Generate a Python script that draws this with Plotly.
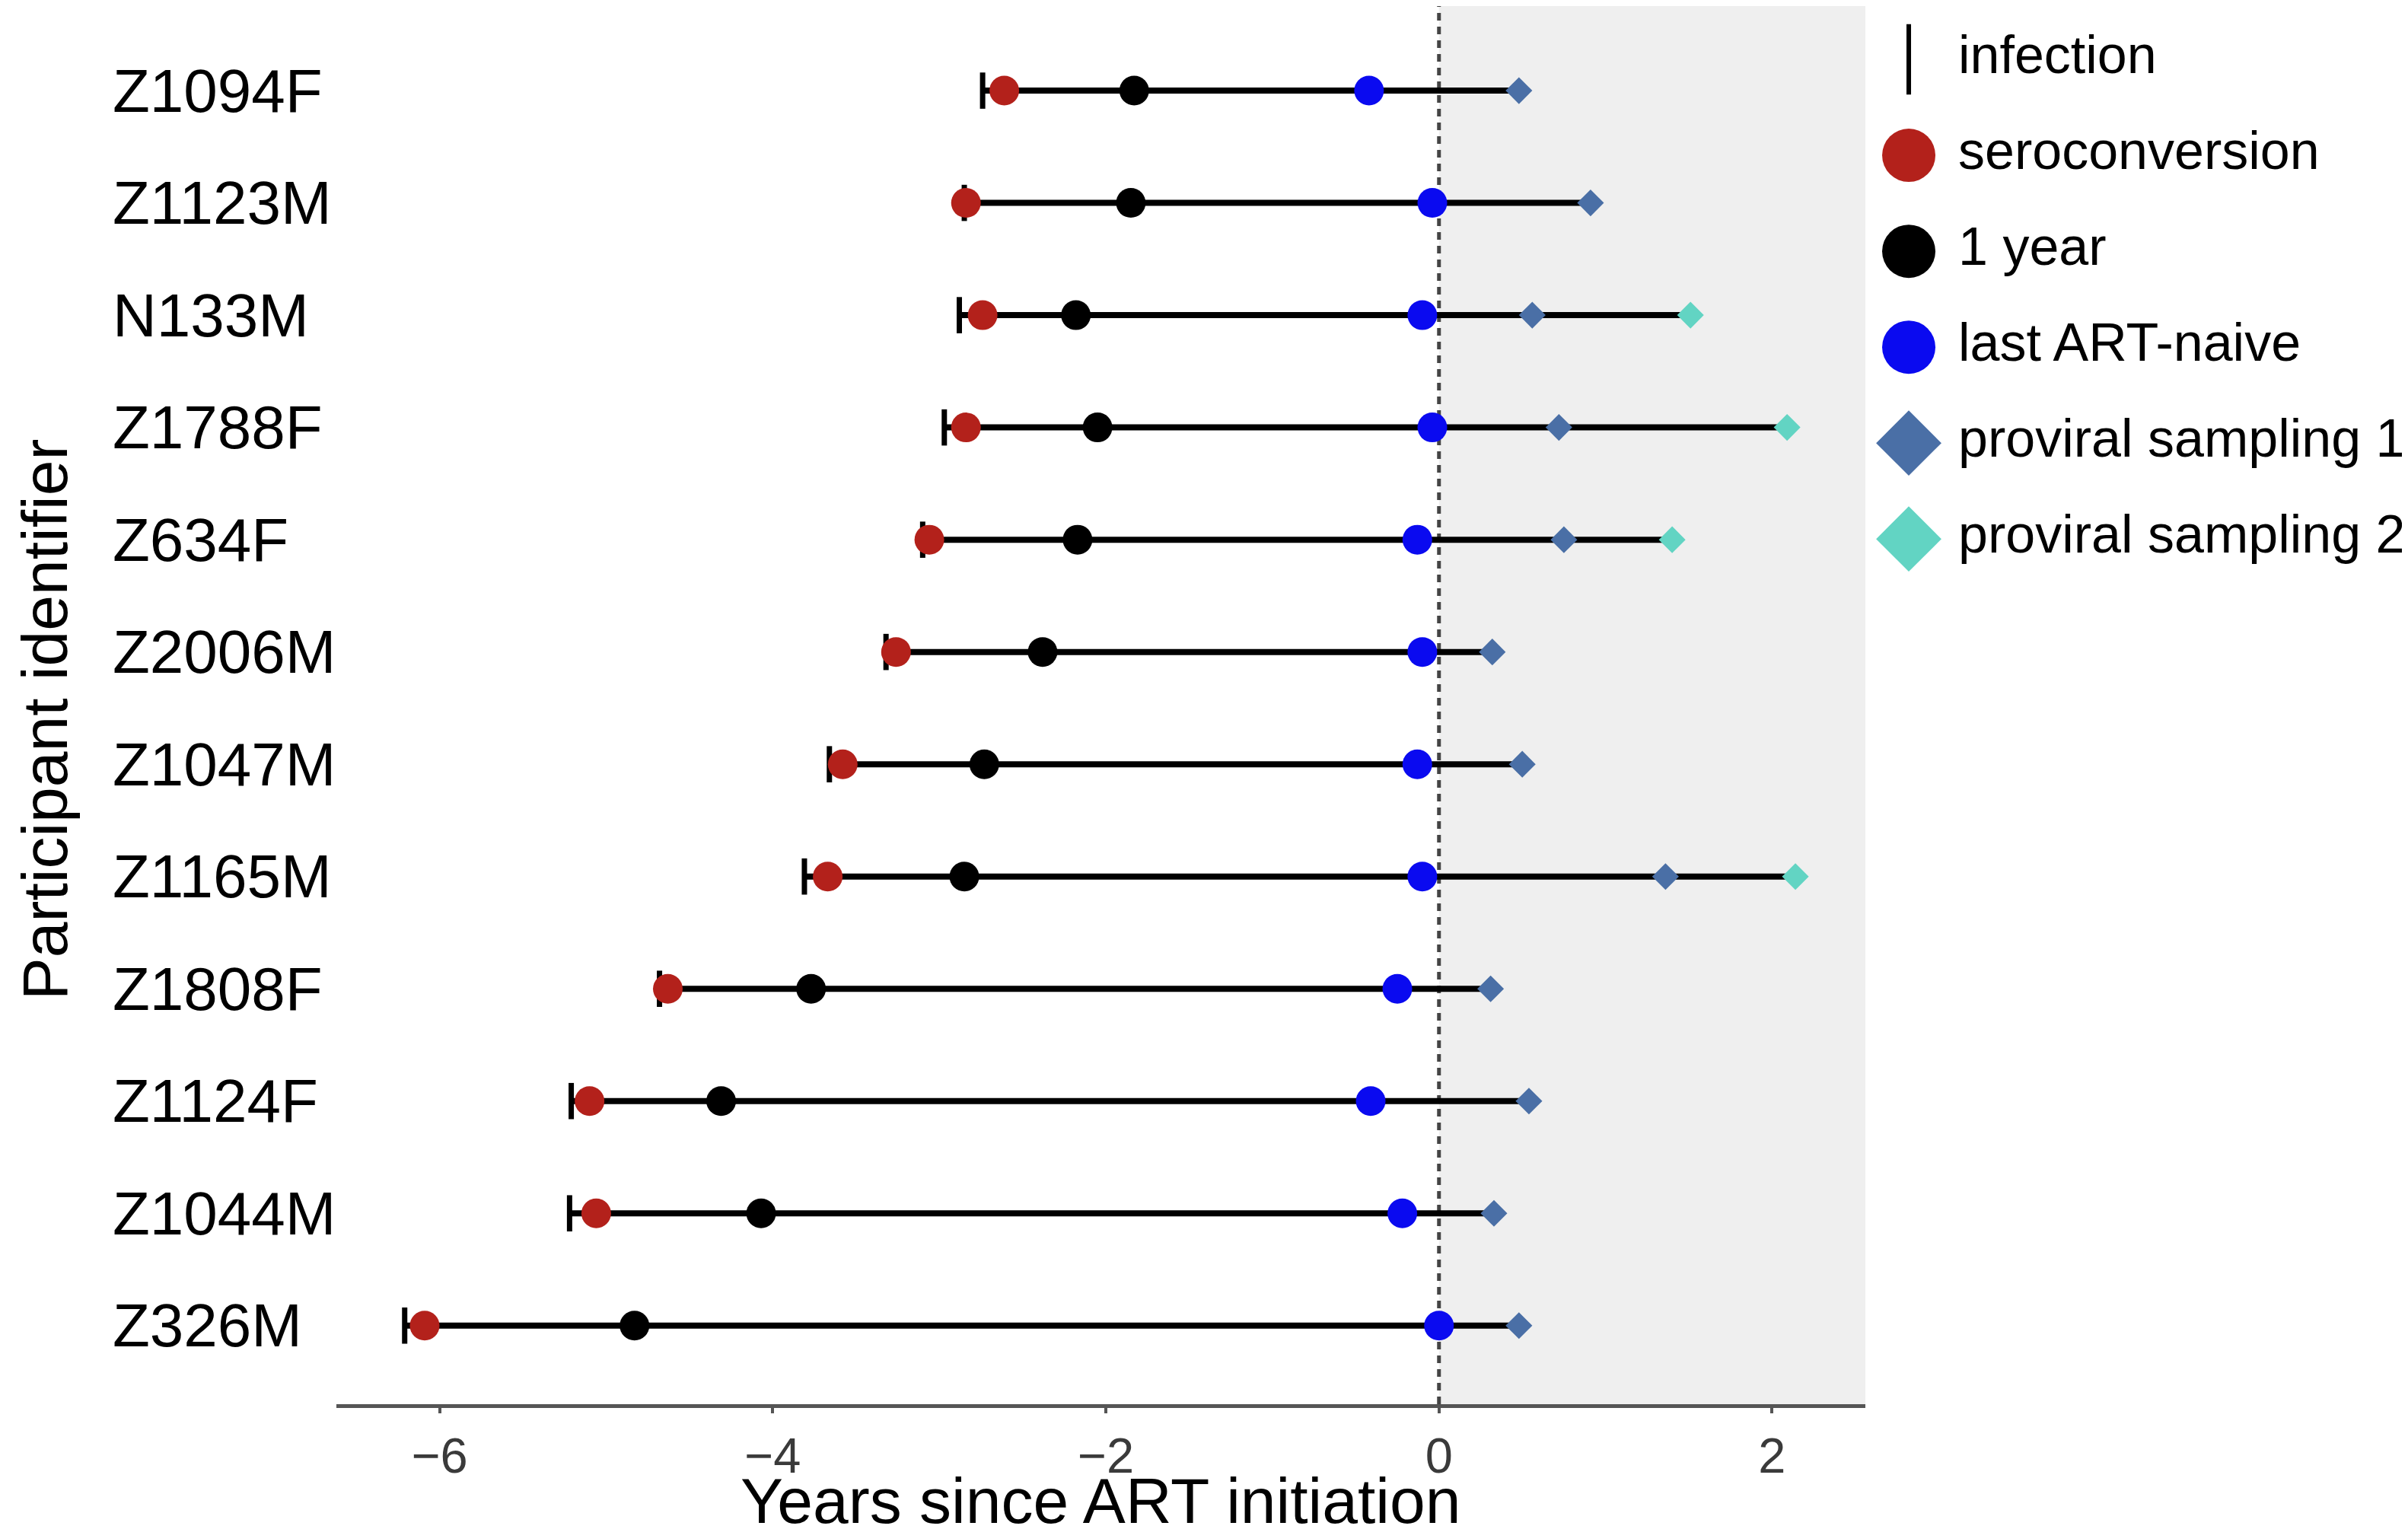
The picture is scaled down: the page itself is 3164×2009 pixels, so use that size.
import plotly.graph_objects as go

# participants, top to bottom
participants = ["Z1094F", "Z1123M", "N133M", "Z1788F", "Z634F", "Z2006M",
                "Z1047M", "Z1165M", "Z1808F", "Z1124F", "Z1044M", "Z326M"]

# years since ART initiation
infection = [-2.74, -2.85, -2.88, -2.97, -3.10, -3.32, -3.66, -3.81, -4.68, -5.21, -5.22, -6.21]
seroconversion = [-2.61, -2.84, -2.74, -2.84, -3.06, -3.26, -3.58, -3.67, -4.63, -5.10, -5.06, -6.09]
one_year = [-1.83, -1.85, -2.18, -2.05, -2.17, -2.38, -2.73, -2.85, -3.77, -4.31, -4.07, -4.83]
last_art_naive = [-0.42, -0.04, -0.10, -0.04, -0.13, -0.10, -0.13, -0.10, -0.25, -0.41, -0.22, 0.0]
proviral_1 = [0.48, 0.91, 0.56, 0.72, 0.75, 0.32, 0.50, 1.36, 0.31, 0.54, 0.33, 0.48]
proviral_2 = [None, None, 1.51, 2.09, 1.40, None, None, 2.14, None, None, None, None]

x_ticks = [-6, -4, -2, 0, 2]

legend_labels = ["infection", "seroconversion", "1 year", "last ART-naive",
                 "proviral sampling 1", "proviral sampling 2"]

RED = "#B3211B"
BLUE = "#0A0AF0"
STEEL = "#4A6FA6"
TURQ = "#62D4C3"
FONT = "Liberation Sans, Arial, sans-serif"

X_RANGE = [-6.62, 2.56]

fig = go.Figure()

# horizontal segments, infection -> last sampling
seg_x, seg_y = [], []
for i, p in enumerate(participants):
    end = max(v for v in (proviral_1[i], proviral_2[i]) if v is not None)
    seg_x += [infection[i], end, None]
    seg_y += [p, p, None]
fig.add_trace(go.Scatter(x=seg_x, y=seg_y, mode="lines",
                         line=dict(color="black", width=8), hoverinfo="skip"))

fig.add_trace(go.Scatter(x=infection, y=participants, mode="markers",
                         marker=dict(symbol="line-ns", size=34,
                                     line=dict(color="black", width=7))))
fig.add_trace(go.Scatter(x=seroconversion, y=participants, mode="markers",
                         marker=dict(symbol="circle", size=39, color=RED, line_width=0)))
fig.add_trace(go.Scatter(x=one_year, y=participants, mode="markers",
                         marker=dict(symbol="circle", size=39, color="black", line_width=0)))
fig.add_trace(go.Scatter(x=last_art_naive, y=participants, mode="markers",
                         marker=dict(symbol="circle", size=39, color=BLUE, line_width=0)))
fig.add_trace(go.Scatter(x=proviral_1, y=participants, mode="markers",
                         marker=dict(symbol="diamond", size=27, color=STEEL, line_width=0)))
fig.add_trace(go.Scatter(x=proviral_2, y=participants, mode="markers",
                         marker=dict(symbol="diamond", size=27, color=TURQ, line_width=0)))

# legend drawn on its own axes (plotly caps legend symbol size)
leg_idx = list(range(len(legend_labels)))
fig.add_trace(go.Scatter(
    x=[0] * len(legend_labels), y=leg_idx, mode="markers", xaxis="x2", yaxis="y2",
    marker=dict(symbol=["line-ns", "circle", "circle", "circle", "diamond", "diamond"],
                size=[66, 70, 70, 70, 66, 66], opacity=1,
                color=["black", RED, "black", BLUE, STEEL, TURQ],
                line=dict(color="black", width=[6, 0, 0, 0, 0, 0]))))
fig.add_trace(go.Scatter(
    x=[1] * len(legend_labels), y=leg_idx, mode="text", xaxis="x2", yaxis="y2",
    text=legend_labels, textposition="middle right",
    textfont=dict(family=FONT, size=70, color="black")))

# participant labels, left aligned
annotations = []
for p in participants:
    annotations.append(dict(text=p, x=-0.1085, xref="paper", y=p, yref="y",
                            xanchor="left", yanchor="middle", showarrow=False,
                            font=dict(family=FONT, size=80, color="black")))
annotations.append(dict(text="Participant identifier", textangle=-90,
                        x=-0.1405, xref="paper", y=0.49, yref="paper",
                        xanchor="center", yanchor="middle", showarrow=False,
                        font=dict(family=FONT, size=84, color="black")))
annotations.append(dict(text="Years since ART initiation",
                        x=0.3679, xref="paper", y=-0.0425, yref="paper",
                        xanchor="center", yanchor="top", showarrow=False,
                        font=dict(family=FONT, size=84, color="black")))

fig.update_layout(
    width=3164, height=2009,
    margin=dict(l=434, r=0, t=0, b=172),
    plot_bgcolor="white", paper_bgcolor="white",
    showlegend=False, hovermode=False,
    font=dict(family=FONT, color="black"),
    annotations=annotations,
    shapes=[
        dict(type="rect", xref="x", yref="paper", x0=0, x1=X_RANGE[1], y0=0, y1=1,
             fillcolor="#EFEFEF", line_width=0, layer="below"),
        dict(type="line", xref="x", yref="paper", x0=0, x1=0, y0=0, y1=1,
             line=dict(color="#444444", width=5, dash="10px,8px"), layer="below"),
    ],
    xaxis=dict(domain=[0, 0.7359], range=X_RANGE, tickvals=x_ticks,
               showgrid=False, zeroline=False, showline=True,
               linecolor="#555555", linewidth=5,
               ticks="outside", ticklen=7, tickwidth=4, tickcolor="#555555",
               tickfont=dict(family=FONT, size=65, color="#3a3a3a")),
    yaxis=dict(domain=[0, 1], type="category", categoryorder="array",
               categoryarray=participants, range=[11.70, -0.753],
               showgrid=False, zeroline=False, showline=False,
               showticklabels=False, ticks=""),
    xaxis2=dict(domain=[0.74, 1], anchor="y2", range=[-0.705, 10.215],
                visible=False),
    yaxis2=dict(domain=[0, 1], anchor="x2", range=[14.02, -0.556],
                visible=False),
)

fig.write_html("out.html")
